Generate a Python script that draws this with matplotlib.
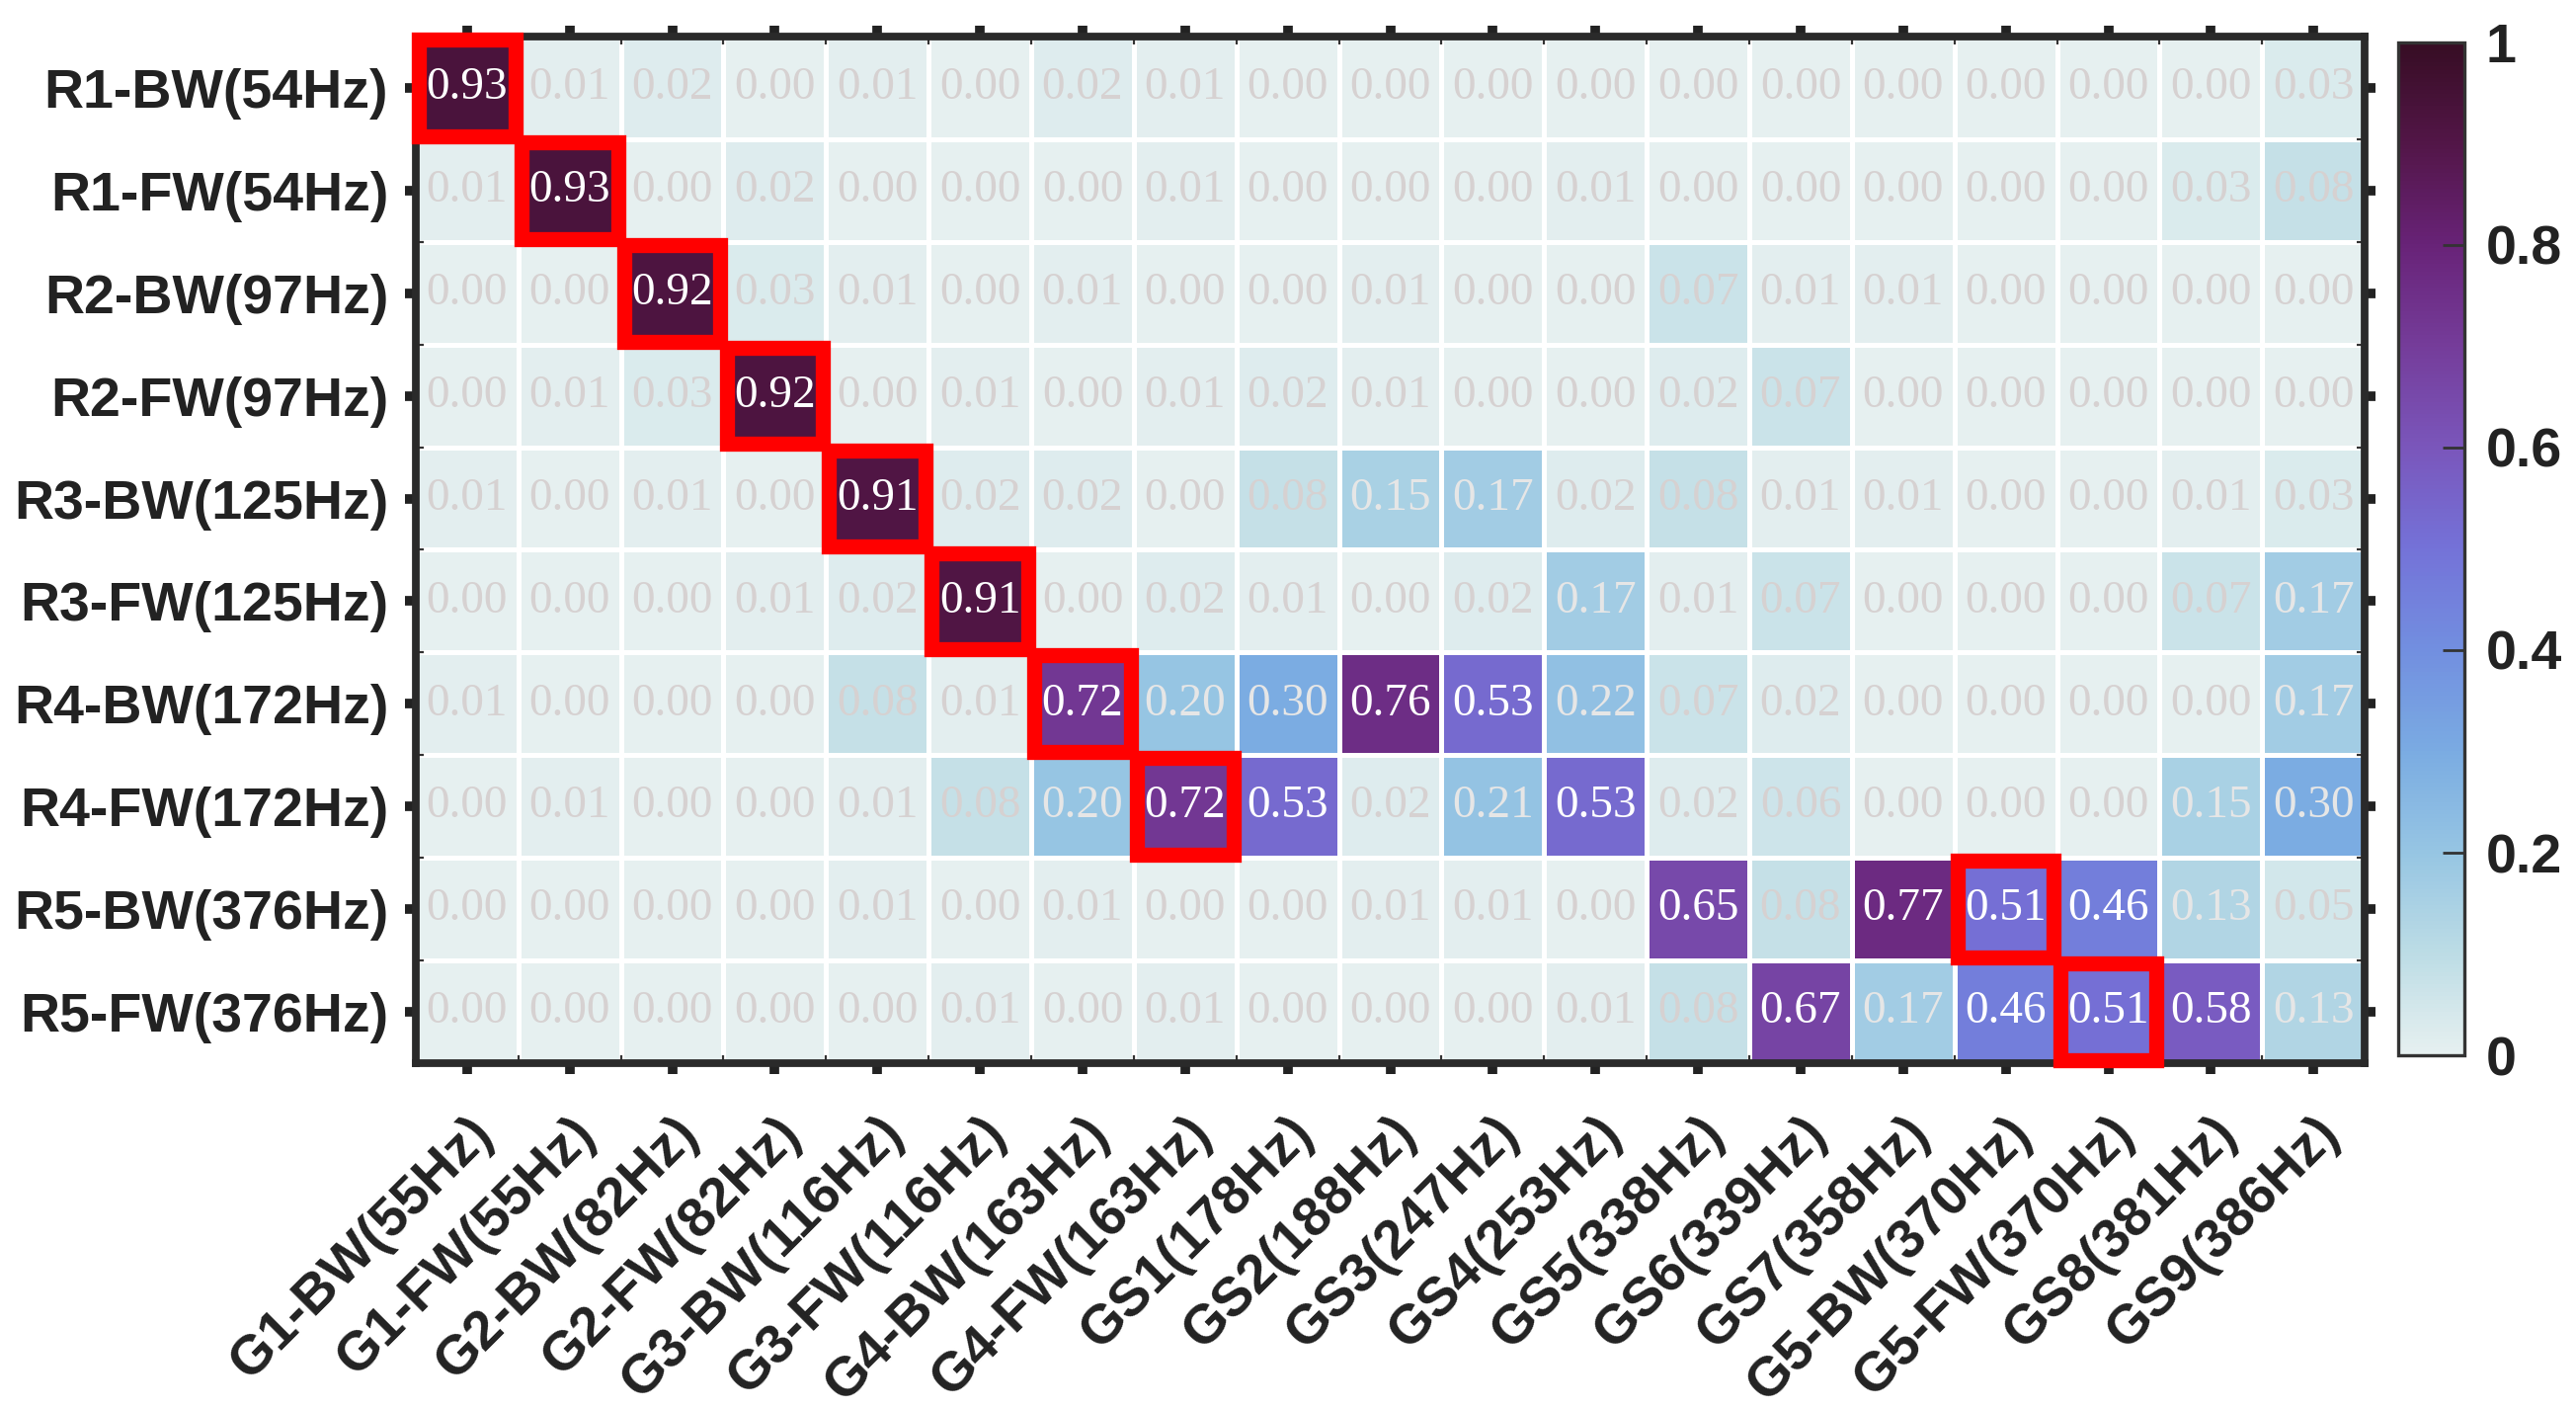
import numpy as np
import matplotlib
matplotlib.use("Agg")
import matplotlib.pyplot as plt
import matplotlib.transforms as mtransforms
from matplotlib.colors import LinearSegmentedColormap
from matplotlib.patches import Rectangle

# rows: real modes, columns: reference modes
row_labels = ["R1-BW(54Hz)", "R1-FW(54Hz)", "R2-BW(97Hz)", "R2-FW(97Hz)",
              "R3-BW(125Hz)", "R3-FW(125Hz)", "R4-BW(172Hz)", "R4-FW(172Hz)",
              "R5-BW(376Hz)", "R5-FW(376Hz)"]
col_labels = ["G1-BW(55Hz)", "G1-FW(55Hz)", "G2-BW(82Hz)", "G2-FW(82Hz)",
              "G3-BW(116Hz)", "G3-FW(116Hz)", "G4-BW(163Hz)", "G4-FW(163Hz)",
              "GS1(178Hz)", "GS2(188Hz)", "GS3(247Hz)", "GS4(253Hz)",
              "GS5(338Hz)", "GS6(339Hz)", "GS7(358Hz)", "G5-BW(370Hz)",
              "G5-FW(370Hz)", "GS8(381Hz)", "GS9(386Hz)"]

r1_bw = [0.93, 0.01, 0.02, 0.00, 0.01, 0.00, 0.02, 0.01, 0.00, 0.00, 0.00, 0.00, 0.00, 0.00, 0.00, 0.00, 0.00, 0.00, 0.03]
r1_fw = [0.01, 0.93, 0.00, 0.02, 0.00, 0.00, 0.00, 0.01, 0.00, 0.00, 0.00, 0.01, 0.00, 0.00, 0.00, 0.00, 0.00, 0.03, 0.08]
r2_bw = [0.00, 0.00, 0.92, 0.03, 0.01, 0.00, 0.01, 0.00, 0.00, 0.01, 0.00, 0.00, 0.07, 0.01, 0.01, 0.00, 0.00, 0.00, 0.00]
r2_fw = [0.00, 0.01, 0.03, 0.92, 0.00, 0.01, 0.00, 0.01, 0.02, 0.01, 0.00, 0.00, 0.02, 0.07, 0.00, 0.00, 0.00, 0.00, 0.00]
r3_bw = [0.01, 0.00, 0.01, 0.00, 0.91, 0.02, 0.02, 0.00, 0.08, 0.15, 0.17, 0.02, 0.08, 0.01, 0.01, 0.00, 0.00, 0.01, 0.03]
r3_fw = [0.00, 0.00, 0.00, 0.01, 0.02, 0.91, 0.00, 0.02, 0.01, 0.00, 0.02, 0.17, 0.01, 0.07, 0.00, 0.00, 0.00, 0.07, 0.17]
r4_bw = [0.01, 0.00, 0.00, 0.00, 0.08, 0.01, 0.72, 0.20, 0.30, 0.76, 0.53, 0.22, 0.07, 0.02, 0.00, 0.00, 0.00, 0.00, 0.17]
r4_fw = [0.00, 0.01, 0.00, 0.00, 0.01, 0.08, 0.20, 0.72, 0.53, 0.02, 0.21, 0.53, 0.02, 0.06, 0.00, 0.00, 0.00, 0.15, 0.30]
r5_bw = [0.00, 0.00, 0.00, 0.00, 0.01, 0.00, 0.01, 0.00, 0.00, 0.01, 0.01, 0.00, 0.65, 0.08, 0.77, 0.51, 0.46, 0.13, 0.05]
r5_fw = [0.00, 0.00, 0.00, 0.00, 0.00, 0.01, 0.00, 0.01, 0.00, 0.00, 0.00, 0.01, 0.08, 0.67, 0.17, 0.46, 0.51, 0.58, 0.13]

# matched pairs (row, col) marked with red boxes
matches = [(0, 0), (1, 1), (2, 2), (3, 3), (4, 4), (5, 5), (6, 6), (7, 7), (8, 15), (9, 16)]

mac = np.array([r1_bw, r1_fw, r2_bw, r2_fw, r3_bw, r3_fw, r4_bw, r4_fw, r5_bw, r5_fw])

cmap = LinearSegmentedColormap.from_list("dense_like", [
    (0.0, "#e6f0f0"), (0.1, "#bcdce5"), (0.2, "#96c5e3"), (0.3, "#7aabe2"),
    (0.4, "#728fe0"), (0.5, "#7472d8"), (0.6, "#7a56bb"), (0.7, "#753c9a"),
    (0.8, "#682378"), (0.9, "#531648"), (1.0, "#370d24")])

plt.rcParams["font.family"] = "Liberation Sans"
fig = plt.figure(figsize=(13.04, 7.13), dpi=200)
ax = fig.add_axes([0.1614, 0.2455, 0.7566, 0.7285])

nr, nc = mac.shape
mesh = ax.pcolormesh(np.arange(nc + 1), np.arange(nr + 1), mac, cmap=cmap,
                     vmin=0, vmax=1, edgecolors="white", linewidth=1.2)
ax.set_xlim(0, nc)
ax.set_ylim(nr, 0)

for i in range(nr):
    for j in range(nc):
        v = mac[i, j]
        if v >= 0.45:
            c = "white"
        elif v >= 0.1:
            c = "#e6e6e6"
        else:
            c = "#d6d1d1"
        ax.text(j + 0.5, i + 0.5, f"{v:.2f}", ha="center", va="center",
                fontsize=17, color=c, family="Liberation Serif")

for (i, j) in matches:
    ax.add_patch(Rectangle((j + 0.03, i + 0.03), 0.94, 0.94, fill=False,
                           edgecolor="#ff0000", linewidth=5.5, zorder=5, clip_on=False))

ax.set_xticks(np.arange(nc) + 0.5)
ax.set_yticks(np.arange(nr) + 0.5)
ax.set_xticklabels(col_labels, rotation=45, ha="right", rotation_mode="anchor",
                   fontsize=20, fontweight="bold", color="#222222")
ax.set_yticklabels(row_labels, fontsize=20, fontweight="bold", color="#222222")
shift = mtransforms.ScaledTranslation(0.09, 0, fig.dpi_scale_trans)
for lab in ax.get_xticklabels():
    lab.set_transform(lab.get_transform() + shift)
ax.set_xticks(np.arange(nc + 1), minor=True)
ax.set_yticks(np.arange(nr + 1), minor=True)
ax.tick_params(which="major", direction="out", length=4, width=3.5, color="#222222",
               top=True, right=True, pad=6)
ax.tick_params(axis="x", which="major", pad=12)
ax.tick_params(which="minor", direction="in", length=3, width=0.8, color="#333333",
               top=True, right=True)
for s in ax.spines.values():
    s.set_linewidth(2.8)
    s.set_color("#2a2a2a")

cax = fig.add_axes([0.931, 0.251, 0.0255, 0.719])
cb = fig.colorbar(mesh, cax=cax, ticks=[0, 0.2, 0.4, 0.6, 0.8, 1])
cb.ax.set_yticklabels(["0", "0.2", "0.4", "0.6", "0.8", "1"])
cb.outline.set_linewidth(1.2)
cb.outline.set_edgecolor("#333333")
cb.ax.tick_params(direction="in", length=8, width=1, color="#333333",
                  labelsize=20, pad=8)
for t in cb.ax.get_yticklabels():
    t.set_fontweight("bold")
    t.set_color("#222222")

fig.savefig("out.png", dpi=200)
